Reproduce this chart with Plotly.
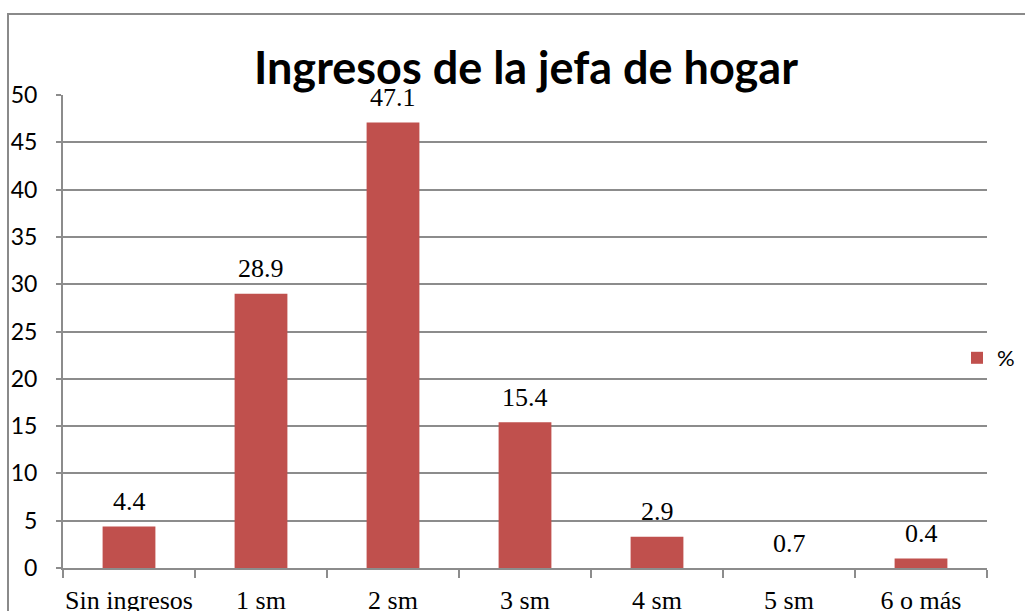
import plotly.graph_objects as go

categories = ["Sin ingresos", "1 sm", "2 sm", "3 sm", "4 sm", "5 sm", "6 o más"]
bar_values = [4.4, 29.0, 47.1, 15.4, 3.3, 0.0, 1.0]
label_texts = ["4.4", "28.9", "47.1", "15.4", "2.9", "0.7", "0.4"]
y_ticks = [0, 5, 10, 15, 20, 25, 30, 35, 40, 45, 50]
series_name = "%"
title_text = "Ingresos de la jefa de hogar"

BAR = "#C0504D"
GRID = "#8C8C8C"

fig = go.Figure()
fig.add_trace(go.Bar(x=categories, y=bar_values, name=series_name,
                     marker=dict(color=BAR, line=dict(width=0)),
                     width=0.40, showlegend=True))

for c, v, t in zip(categories, bar_values, label_texts):
    fig.add_annotation(x=c, y=v, text=t, showarrow=False, xref="x", yref="y",
                       yanchor="middle", yshift=25,
                       font=dict(family="Liberation Serif", size=26, color="#000"))

L, R, T, B = 63, 38, 95, 43
W, H = 1025, 611
pw = W - L - R
ph = H - T - B

fig.add_shape(type="rect", xref="paper", yref="paper",
              x0=(8 - L) / pw, x1=(W + 20 - L) / pw,
              y0=-(H + 20 - (H - B)) / ph, y1=((H - B) - 14) / ph,
              line=dict(color="#8A8A8A", width=2), fillcolor="rgba(0,0,0,0)", layer="below")

fig.update_layout(
    width=W, height=H,
    margin=dict(l=L, r=R, t=T, b=B, autoexpand=False),
    paper_bgcolor="white", plot_bgcolor="white",
    title=dict(text="<b>" + title_text + "</b>", x=(526 - L) / pw, xref="paper",
               y=(H - 68) / H, yanchor="middle",
               font=dict(family="Lato", size=45, color="#000")),
    legend=dict(x=(957 - L) / pw, y=((H - B) - 358) / ph, xanchor="left", yanchor="middle",
                font=dict(family="Lato", size=22, color="#000"),
                bgcolor="rgba(0,0,0,0)", itemwidth=30, tracegroupgap=0),
    xaxis=dict(showgrid=False, showline=True, linecolor=GRID, linewidth=2,
               ticks="outside", ticklen=8, tickcolor=GRID, tickwidth=2,
               tickson="boundaries", ticklabelstandoff=8, tickangle=0,
               tickfont=dict(family="Liberation Serif", size=26, color="#000"),
               range=[-0.5, 6.5]),
    yaxis=dict(range=[0, 50], tickvals=y_ticks, showgrid=True, gridcolor=GRID, gridwidth=2,
               showline=True, linecolor=GRID, linewidth=2, zeroline=False,
               ticks="outside", ticklen=5, tickcolor=GRID, tickwidth=2,
               ticklabelstandoff=14,
               tickfont=dict(family="Lato", size=23, color="#000")),
)

fig.write_html("out.html", config={"displayModeBar": False},
               post_script="document.body.style.margin='0';document.body.style.overflow='hidden';")
